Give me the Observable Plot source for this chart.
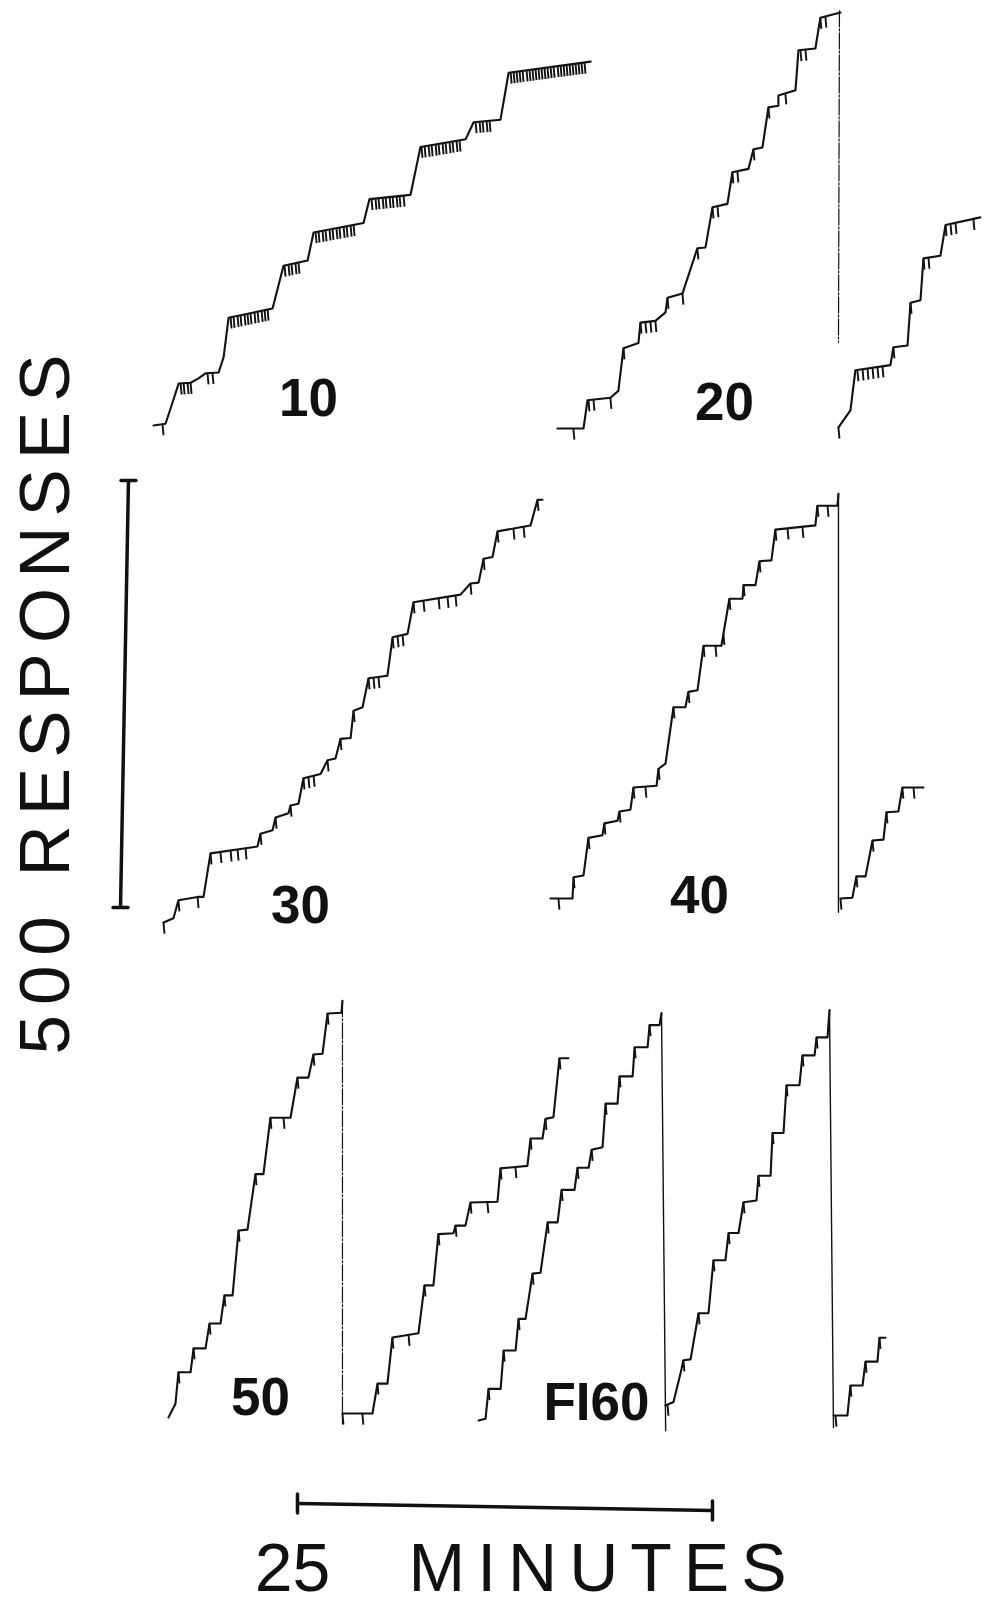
<!DOCTYPE html>
<html>
<head>
<meta charset="utf-8">
<script src="https://cdn.jsdelivr.net/npm/d3@7"></script>
<script src="https://cdn.jsdelivr.net/npm/@observablehq/plot@0.6"></script>
<style>
html, body { margin: 0; padding: 0; background: #fff; }
#chart svg { display: block; }
</style>
</head>
<body>
<div id="chart"></div>
<script>
// ---------- DATA: cumulative records, [minutes since record start, cumulative responses] ----------
const rec10 = [[0,0],[0.72,2],[1.08,23],[1.51,49],[2.23,50],[2.71,55],[3.13,61],[3.92,62],[4.22,80],[4.52,126],[7.17,137],[7.83,187],[9.28,193],[9.64,226],[12.65,237],[13.01,265],[15.48,270],[16.08,326],[18.80,335],[19.28,355],[20.90,358],[21.39,413],[26.33,426]];
const pips10 = [0.54,1.63,1.81,2.05,2.23,3.25,3.55,4.64,4.82,5.06,5.24,5.48,5.66,5.84,6.08,6.27,6.51,6.69,6.87,7.89,8.13,8.31,8.55,8.73,9.76,9.94,10.18,10.36,10.60,10.78,11.02,11.20,11.45,11.63,11.87,12.05,13.13,13.37,13.55,13.80,13.98,14.22,14.40,14.64,14.82,15.06,16.14,16.33,16.57,16.75,16.99,17.17,17.41,17.59,17.83,18.01,18.25,18.43,19.40,19.64,19.82,20.06,20.24,21.51,21.69,21.87,22.05,22.23,22.47,22.65,22.83,23.01,23.19,23.37,23.55,23.73,23.92,24.10,24.34,24.52,24.70,24.88,25.06,25.24,25.42,25.60,25.78,25.96];

const rec20 = [[0,0],[1.57,0],[1.81,33],[3.19,36],[3.67,44],[3.98,94],[4.88,100],[5.00,124],[5.90,126],[6.51,136],[6.63,153],[7.53,158],[8.43,211],[8.92,212],[9.34,259],[10.24,263],[10.54,300],[11.51,304],[11.81,327],[12.35,329],[12.71,376],[13.31,378],[13.31,390],[14.34,396],[14.52,443],[15.54,445],[15.84,481],[17.05,487]];
const pips20 = [0.96,1.87,2.17,3.19,3.98,5.00,5.30,5.60,5.90,6.63,7.53,8.43,9.34,9.64,10.54,10.84,11.81,12.71,13.73,14.64,14.94,15.84,16.14];
const reset20 = [[16.99,489],[16.93,101]];

const rec20b = [[0,0],[0.72,20],[1.02,67],[3.13,73],[3.31,94],[4.16,96],[4.34,146],[4.94,149],[5.12,198],[6.14,201],[6.45,237],[8.55,246]];
const pips20b = [0,1.14,1.45,1.75,2.05,2.35,2.65,3.31,4.34,5.12,5.42,6.45,6.75,7.05,8.13];

const rec30 = [[0,0],[0.60,5],[0.90,26],[2.05,30],[2.41,30],[2.83,81],[5.66,89],[5.84,104],[6.57,108],[6.75,123],[7.53,128],[7.65,137],[8.13,139],[8.43,169],[9.46,174],[9.88,190],[10.36,192],[10.66,215],[11.27,216],[11.45,248],[11.99,252],[12.35,286],[13.49,289],[13.80,334],[14.70,338],[15.06,375],[17.89,384],[18.49,397],[18.98,398],[19.28,426],[19.82,428],[20.12,458],[22.11,465],[22.53,495],[22.83,495]];
const pips30 = [0,0.90,2.05,2.83,3.43,4.04,4.46,4.94,5.84,6.75,7.65,8.43,8.73,9.04,9.88,10.66,11.45,12.35,12.65,12.95,13.80,14.10,14.40,15.06,15.66,16.57,17.11,17.59,18.49,19.28,20.12,21.08,21.69,22.53];

const rec40 = [[0,0],[1.33,0],[1.39,25],[1.99,27],[2.29,71],[3.13,74],[3.25,88],[4.04,91],[4.16,102],[4.82,104],[5.00,130],[6.39,132],[6.51,152],[6.93,158],[7.41,224],[8.13,224],[8.31,242],[8.86,244],[9.22,296],[10.30,296],[10.42,310],[10.78,351],[11.57,351],[11.63,367],[12.35,367],[12.59,395],[13.31,396],[13.55,432],[15.96,437],[16.08,460],[17.29,460],[17.35,474]];
const pips40 = [0.48,1.39,2.29,3.25,4.16,5.00,5.72,6.51,7.41,8.31,9.22,9.94,10.42,10.78,11.63,12.59,13.55,14.28,15.18,16.08,16.69];
const reset40 = [[17.35,474],[17.35,-16]];

const rec40b = [[0,0],[0.72,1],[0.96,26],[1.51,26],[1.93,68],[2.59,69],[2.77,101],[3.49,102],[3.73,130],[5.00,130]];
const pips40b = [0,0.96,1.93,2.77,3.73,4.40];

const rec50 = [[0,0],[0.42,16],[0.60,53],[1.33,53],[1.51,81],[2.23,81],[2.47,110],[3.13,110],[3.37,143],[3.86,143],[4.22,219],[4.76,220],[5.24,285],[5.72,285],[6.14,351],[7.35,351],[7.77,398],[8.43,398],[8.73,425],[9.28,426],[9.58,473],[10.42,474],[10.48,488]];
const pips50 = [0.60,1.51,2.47,3.37,4.22,5.24,6.14,6.93,7.77,8.73,9.58];
const reset50 = [[10.48,488],[10.48,-7]];

const rec50b = [[0,0],[1.81,0],[2.11,35],[2.71,35],[3.01,89],[4.58,94],[4.94,150],[5.48,150],[5.78,210],[6.69,211],[6.81,220],[7.41,220],[7.71,247],[9.34,248],[9.52,287],[11.14,290],[11.33,322],[12.05,322],[12.23,345],[12.71,347],[13.07,416],[13.61,416]];
const pips50b = [0,1.20,2.11,3.01,3.98,4.94,5.78,6.81,7.71,8.73,9.52,10.42,11.33,12.23,13.07];

const rec60a = [[0,0],[0.42,2],[0.60,37],[1.33,37],[1.51,82],[2.23,82],[2.41,119],[2.83,119],[3.25,172],[3.73,173],[4.16,232],[4.76,232],[5.00,270],[5.78,270],[5.96,296],[6.63,296],[6.81,317],[7.47,320],[7.65,371],[8.37,371],[8.49,403],[9.28,403],[9.40,437],[10.18,437],[10.30,463],[10.90,463],[11.02,477]];
const pips60a = [0.60,1.51,2.41,3.25,4.16,5.00,5.96,6.81,7.65,8.49,9.40,10.30];
const reset60a = [[11.02,477],[11.27,-12]];

const rec60b = [[0,0],[0.48,4],[0.90,37],[1.08,53],[1.51,54],[1.99,108],[2.59,108],[2.89,170],[3.61,170],[3.80,202],[4.40,202],[4.70,238],[5.48,240],[5.60,269],[6.33,269],[6.45,319],[7.11,319],[7.29,375],[8.07,375],[8.25,410],[8.98,410],[9.10,431],[9.76,431],[9.88,463]];
const pips60b = [0.12,1.08,1.99,2.89,3.80,4.70,5.60,6.45,7.29,8.25,9.10];
const reset60b = [[9.88,463],[10.12,-26]];

const rec60c = [[0,0],[0.84,0],[1.02,35],[1.75,35],[1.93,63],[2.65,63],[2.77,91],[3.13,91]];
const pips60c = [0.12,1.02,1.93,2.77];

// record placement on the paper: [minutes, responses] of each record's start
const recordIds     = ["10","20","20b","30","40","40b","50","50b","60a","60b","60c"];
const recordOrigins = [[9.22,1383],[33.55,1379.4],[50.48,1380.6],[9.82,800.9],[33.13,829],[50.60,829],[10.12,221.3],[20.60,226],[28.80,217.8],[40.06,235.4],[50.18,223.7]];
const recordPoints  = [rec10,rec20,rec20b,rec30,rec40,rec40b,rec50,rec50b,rec60a,rec60b,rec60c];
const recordPips    = [pips10,pips20,pips20b,pips30,pips40,pips40b,pips50,pips50b,pips60a,pips60b,pips60c];
const recordResets  = {"20": reset20, "40": reset40, "50": reset50, "60a": reset60a, "60b": reset60b};
const dashedResets  = ["20","50"];

// session labels
const sessionLabels = ["10","20","30","40","50","FI60"];
const sessionLabelPos = [[18.55,1394.6],[43.61,1388.8],[18.07,800.9],[42.11,811.5],[15.66,223.7],[35.90,217.8]];

// calibration bars
const responseBarCount = 500;   // responses
const timeBarMinutes = 25;      // minutes
const responseBar = {xBottom: 7.23, xTop: 7.71, base: 818.5};
const timeBar = {start: 17.89, yStart: 120.6, yEnd: 112.4};

// ---------- BUILD ----------
const W = 987, H = 1606;
const PX_PER_MIN = 16.6, PX_PER_RESP = 0.854;

function levelAt(pts, t) {
  for (let i = 0; i < pts.length - 1; i++) {
    const [t0, n0] = pts[i], [t1, n1] = pts[i + 1];
    if (t >= t0 && t <= t1) {
      if (t1 === t0) return n1;
      return n0 + (n1 - n0) * (t - t0) / (t1 - t0);
    }
  }
  return pts[pts.length - 1][1];
}

const curveData = [], pipData = [], resetSolid = [], resetDashed = [];
recordIds.forEach((id, i) => {
  const [x0, y0] = recordOrigins[i];
  const pts = recordPoints[i];
  pts.forEach(([t, n]) => curveData.push({id, x: x0 + t, y: y0 + n}));
  recordPips[i].forEach(t => {
    const n = levelAt(pts, t);
    pipData.push({x: x0 + t, y: y0 + n});
  });
  const r = recordResets[id];
  if (r) {
    const target = dashedResets.includes(id) ? resetDashed : resetSolid;
    r.forEach(([t, n]) => target.push({id, x: x0 + t, y: y0 + n}));
  }
});

const labelData = sessionLabels.map((text, i) => ({text, x: sessionLabelPos[i][0], y: sessionLabelPos[i][1]}));

const rBar = [{x1: responseBar.xBottom, y1: responseBar.base, x2: responseBar.xTop, y2: responseBar.base + responseBarCount}];
const rCaps = [
  {x1: responseBar.xBottom - 0.45, x2: responseBar.xBottom + 0.45, y: responseBar.base},
  {x1: responseBar.xTop - 0.45, x2: responseBar.xTop + 0.45, y: responseBar.base + responseBarCount}
];
const tBar = [{x1: timeBar.start, y1: timeBar.yStart, x2: timeBar.start + timeBarMinutes, y2: timeBar.yEnd}];
const tCaps = [
  {x: timeBar.start, y1: timeBar.yStart - 11, y2: timeBar.yStart + 11},
  {x: timeBar.start + timeBarMinutes, y1: timeBar.yEnd - 11, y2: timeBar.yEnd + 11}
];

const FONT = "'Liberation Sans', Arial, Helvetica, sans-serif";
const ink = "#111";

const svg = Plot.plot({
  width: W,
  height: H,
  margin: 0,
  x: {domain: [0, W / PX_PER_MIN], axis: null},
  y: {domain: [0, H / PX_PER_RESP], axis: null},
  style: {background: "white", color: ink},
  marks: [
    Plot.line(resetSolid, {x: "x", y: "y", z: "id", stroke: ink, strokeWidth: 1.4}),
    Plot.line(resetDashed, {x: "x", y: "y", z: "id", stroke: ink, strokeWidth: 1.2, strokeDasharray: "16,2,2,2"}),
    Plot.link(pipData, {x1: "x", y1: "y", x2: d => d.x + 0.06, y2: d => d.y - 13, stroke: ink, strokeWidth: 1.9}),
    Plot.line(curveData, {x: "x", y: "y", z: "id", stroke: ink, strokeWidth: 2.1, strokeLinejoin: "round", strokeLinecap: "round"}),
    Plot.link(rBar, {x1: "x1", y1: "y1", x2: "x2", y2: "y2", stroke: ink, strokeWidth: 3.5}),
    Plot.link(rCaps, {x1: "x1", x2: "x2", y1: "y", y2: "y", stroke: ink, strokeWidth: 3.5, strokeLinecap: "round"}),
    Plot.link(tBar, {x1: "x1", y1: "y1", x2: "x2", y2: "y2", stroke: ink, strokeWidth: 3.5}),
    Plot.link(tCaps, {x1: "x", x2: "x", y1: "y1", y2: "y2", stroke: ink, strokeWidth: 3.5, strokeLinecap: "round"}),
    Plot.text(labelData, {x: "x", y: "y", text: "text", fontSize: 53, fontWeight: "bold", fontFamily: FONT, fill: ink, textAnchor: "middle", lineAnchor: "bottom"}),
    Plot.text(["500 RESPONSES"], {x: () => 4.10, y: () => 1062, text: d => d, rotate: -90, fontSize: 71, fontFamily: FONT, fill: ink, textAnchor: "middle", lineAnchor: "bottom"}),
    Plot.text(["25"], {x: () => 17.59, y: () => 17.6, text: d => d, fontSize: 68, fontFamily: FONT, fill: ink, textAnchor: "middle", lineAnchor: "bottom"}),
    Plot.text(["MINUTES"], {x: () => 24.58, y: () => 17.6, text: d => d, fontSize: 68, fontFamily: FONT, fill: ink, textAnchor: "start", lineAnchor: "bottom"})
  ]
});

d3.select(svg).selectAll("text").each(function() {
  const s = this.textContent;
  if (s === "500 RESPONSES") this.setAttribute("letter-spacing", "10px");
  if (s === "MINUTES") this.setAttribute("letter-spacing", "12px");
});

document.getElementById("chart").appendChild(svg);
</script>
</body>
</html>
